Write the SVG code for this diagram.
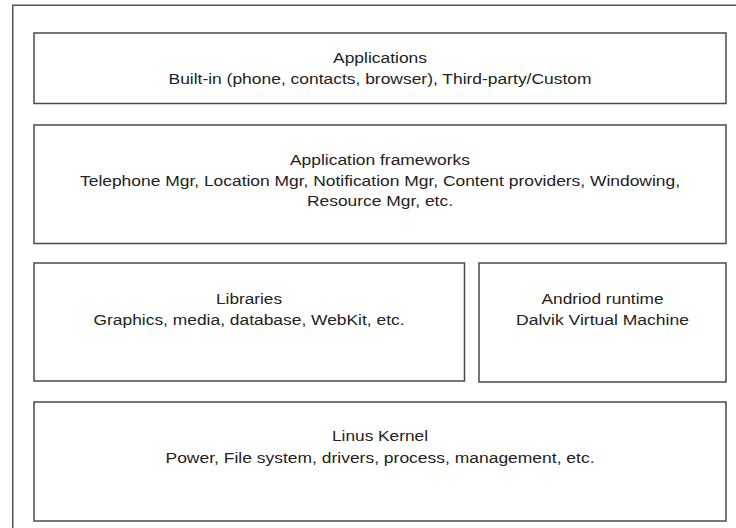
<svg xmlns="http://www.w3.org/2000/svg" width="736" height="528" viewBox="0 0 736 528">
<style>
.box{fill:#fff;stroke:#4a4a4a;stroke-width:1.5}
.frame{fill:none;stroke:#555;stroke-width:1.5}
text{font-family:"Liberation Sans",Arial,sans-serif;font-size:14px;fill:#222;text-anchor:middle}
</style>
<rect width="736" height="528" fill="#fff"/>
<path class="frame" d="M12.75 528 V5.25 H736"/>
<g id="applications">
<rect class="box" x="34" y="33" width="692" height="70.5"/>
<text x="380" y="63" textLength="94" lengthAdjust="spacingAndGlyphs">Applications</text>
<text x="380" y="84" textLength="423" lengthAdjust="spacingAndGlyphs">Built-in (phone, contacts, browser), Third-party/Custom</text>
</g>
<g id="frameworks">
<rect class="box" x="34" y="125" width="692" height="118.5"/>
<text x="380" y="165" textLength="180" lengthAdjust="spacingAndGlyphs">Application frameworks</text>
<text x="380" y="186" textLength="600" lengthAdjust="spacingAndGlyphs">Telephone Mgr, Location Mgr, Notification Mgr, Content providers, Windowing,</text>
<text x="380" y="206" textLength="146" lengthAdjust="spacingAndGlyphs">Resource Mgr, etc.</text>
</g>
<g id="libraries">
<rect class="box" x="34" y="263" width="430.5" height="118"/>
<text x="249" y="304" textLength="66" lengthAdjust="spacingAndGlyphs">Libraries</text>
<text x="249" y="325" textLength="311" lengthAdjust="spacingAndGlyphs">Graphics, media, database, WebKit, etc.</text>
</g>
<g id="runtime">
<rect class="box" x="479" y="263" width="247" height="119"/>
<text x="602.5" y="304" textLength="122" lengthAdjust="spacingAndGlyphs">Andriod runtime</text>
<text x="602.5" y="325" textLength="173" lengthAdjust="spacingAndGlyphs">Dalvik Virtual Machine</text>
</g>
<g id="kernel">
<rect class="box" x="34" y="402" width="692" height="119"/>
<text x="380" y="441" textLength="96" lengthAdjust="spacingAndGlyphs">Linus Kernel</text>
<text x="380" y="463" textLength="429" lengthAdjust="spacingAndGlyphs">Power, File system, drivers, process, management, etc.</text>
</g>
<g id="connectors"></g>
</svg>
